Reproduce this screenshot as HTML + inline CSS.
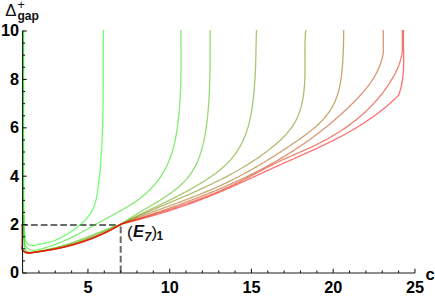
<!DOCTYPE html>
<html><head><meta charset="utf-8"><style>
html,body{margin:0;padding:0;background:#fff;}
svg{display:block;font-family:"Liberation Sans",sans-serif;}
</style></head><body>
<svg width="435" height="297" viewBox="0 0 435 297">
<rect width="435" height="297" fill="#fff"/>
<g stroke="#6a6a6a" stroke-width="2.0" stroke-dasharray="6.7,3.05" fill="none">
<line x1="21.3" y1="225.1" x2="120.7" y2="225.1"/>
<line x1="120.7" y1="224.6" x2="120.7" y2="273.0" stroke-dashoffset="-2"/>
</g>
<path d="M23.6,30.1 L23.6,150.0 L23.8,205.0 L23.7,205.0 L23.8,206.5 L23.9,208.0 L23.9,209.5 L23.9,211.0 L23.9,212.5 L24.0,214.0 L24.0,215.5 L24.0,217.0 L24.0,218.5 L24.0,220.0 L24.1,221.4 L24.1,222.9 L24.1,224.4 L24.2,225.9 L24.3,227.4 L24.3,228.9 L24.4,230.4 L24.5,231.9 L24.7,233.4 L24.8,234.9 L25.0,236.4 L25.2,237.9 L25.4,239.4 L25.8,240.9 L26.4,242.2 L27.3,243.4 L28.4,244.4 L29.7,245.1 L31.1,245.4 L32.6,245.5 L34.1,245.4 L35.6,245.2 L37.1,244.9 L38.6,244.6 L40.0,244.2 L41.5,243.9 L43.0,243.6 L44.4,243.3 L45.9,243.0 L47.4,242.6 L48.8,242.3 L50.3,241.9 L51.7,241.5 L53.1,241.0 L54.5,240.5 L55.9,240.0 L57.2,239.4 L58.6,238.8 L59.9,238.2 L61.3,237.5 L62.6,236.8 L63.9,236.1 L65.2,235.3 L66.5,234.6 L67.8,233.8 L69.1,233.0 L70.4,232.1 L71.7,231.3 L72.9,230.4 L74.2,229.6 L75.4,228.7 L76.6,227.7 L77.8,226.8 L79.0,225.8 L80.2,224.9 L81.3,223.9 L82.4,222.8 L83.5,221.8 L84.6,220.7 L85.6,219.6 L86.6,218.5 L87.5,217.4 L88.4,216.2 L89.3,215.1 L90.1,213.9 L90.9,212.6 L91.6,211.4 L92.3,210.1 L93.0,208.8 L93.5,207.5 L94.1,206.1 L94.6,204.7 L95.0,203.3 L95.5,201.9 L95.9,200.5 L96.2,199.1 L96.5,197.6 L96.8,196.2 L97.1,194.7 L97.4,193.2 L97.6,191.7 L97.8,190.2 L98.0,188.7 L98.2,187.2 L98.4,185.7 L98.6,184.2 L98.8,182.7 L99.0,181.2 L99.1,179.7 L99.3,178.2 L99.5,176.7 L99.6,175.2 L99.8,173.7 L99.9,172.2 L100.0,170.6 L100.2,169.1 L100.3,167.6 L100.4,166.1 L100.6,164.6 L100.7,163.1 L100.8,161.6 L100.9,160.1 L101.0,158.7 L101.1,157.2 L101.2,155.7 L101.3,154.2 L101.4,152.7 L101.5,151.2 L101.6,149.7 L101.7,148.2 L101.8,146.7 L101.9,145.2 L101.9,143.7 L102.0,142.2 L102.1,140.7 L102.1,139.2 L102.2,137.7 L102.3,136.2 L102.3,134.7 L102.4,133.2 L102.4,131.7 L102.5,130.2 L102.5,128.8 L102.6,127.3 L102.6,125.8 L102.7,124.3 L102.7,122.8 L102.7,121.3 L102.8,119.8 L102.8,118.3 L102.8,116.8 L102.9,115.3 L102.9,113.8 L102.9,112.3 L102.9,110.9 L103.0,109.4 L103.0,107.9 L103.0,106.4 L103.0,104.9 L103.0,103.4 L103.1,101.9 L103.1,100.4 L103.1,98.9 L103.1,97.4 L103.1,95.9 L103.1,94.5 L103.1,93.0 L103.1,91.5 L103.1,90.0 L103.1,88.5 L103.1,87.0 L103.2,85.5 L103.2,84.0 L103.2,82.5 L103.2,81.0 L103.2,79.5 L103.2,78.0 L103.2,76.6 L103.2,75.1 L103.2,73.6 L103.2,72.1 L103.2,70.6 L103.2,69.1 L103.2,67.6 L103.2,66.1 L103.2,64.6 L103.2,63.1 L103.2,61.6 L103.2,60.1 L103.2,58.6 L103.2,57.1 L103.2,55.6 L103.2,54.1 L103.2,52.6 L103.2,51.1 L103.3,49.6 L103.3,48.1 L103.3,46.6 L103.3,45.1 L103.3,43.6 L103.3,42.1 L103.3,40.6 L103.4,39.1 L103.4,37.6 L103.4,36.1 L103.4,34.6 L103.4,33.1 L103.5,31.6 L103.5,30.1" stroke="#00ff00" stroke-width="1.3" fill="none" stroke-opacity="0.56" stroke-linejoin="round"/>
<path d="M23.2,30.1 L23.1,150.0 L23.4,222.0 L23.4,222.0 L23.4,223.7 L23.4,225.4 L23.5,227.1 L23.5,228.8 L23.6,230.4 L23.7,232.0 L23.8,233.7 L23.9,235.3 L24.0,237.0 L24.2,238.6 L24.4,240.4 L24.6,242.1 L24.8,243.8 L25.3,245.4 L26.1,246.9 L27.1,248.1 L28.5,249.0 L30.0,249.7 L31.7,250.1 L33.3,250.3 L35.0,250.2 L36.7,249.9 L38.3,249.6 L40.0,249.2 L41.6,248.8 L43.2,248.4 L44.8,247.9 L46.4,247.5 L48.0,247.0 L49.6,246.5 L51.2,245.9 L52.8,245.4 L54.3,244.8 L55.9,244.2 L57.5,243.6 L59.0,243.0 L60.5,242.4 L62.1,241.7 L63.6,241.1 L65.1,240.4 L66.6,239.7 L68.1,239.0 L69.7,238.3 L71.2,237.6 L72.7,236.8 L74.1,236.1 L75.6,235.3 L77.1,234.6 L78.6,233.8 L80.1,233.0 L81.6,232.2 L83.0,231.4 L84.5,230.6 L86.0,229.8 L87.4,229.0 L88.9,228.2 L90.4,227.4 L91.8,226.6 L93.3,225.8 L94.8,224.9 L96.2,224.1 L97.7,223.3 L99.2,222.5 L100.6,221.7 L102.1,220.8 L103.5,220.0 L105.0,219.2 L106.5,218.4 L108.0,217.6 L109.4,216.8 L110.9,216.0 L112.4,215.2 L113.8,214.4 L115.3,213.6 L116.8,212.8 L118.3,212.0 L119.7,211.2 L121.2,210.4 L122.6,209.6 L124.1,208.7 L125.5,207.9 L127.0,207.0 L128.4,206.2 L129.8,205.3 L131.2,204.4 L132.6,203.5 L134.0,202.6 L135.4,201.6 L136.7,200.7 L138.1,199.7 L139.4,198.7 L140.8,197.7 L142.1,196.6 L143.4,195.6 L144.7,194.5 L145.9,193.4 L147.2,192.3 L148.4,191.1 L149.6,189.9 L150.8,188.8 L151.9,187.5 L153.1,186.3 L154.2,185.1 L155.3,183.8 L156.4,182.5 L157.4,181.2 L158.4,179.9 L159.4,178.6 L160.3,177.2 L161.3,175.8 L162.2,174.4 L163.0,173.0 L163.8,171.6 L164.7,170.1 L165.4,168.7 L166.2,167.2 L166.9,165.7 L167.6,164.2 L168.2,162.7 L168.9,161.1 L169.5,159.6 L170.1,158.0 L170.6,156.5 L171.2,154.9 L171.7,153.3 L172.2,151.7 L172.7,150.1 L173.1,148.5 L173.6,146.9 L174.0,145.2 L174.4,143.6 L174.8,141.9 L175.1,140.3 L175.5,138.6 L175.8,137.0 L176.1,135.3 L176.4,133.6 L176.7,132.0 L176.9,130.3 L177.2,128.6 L177.4,126.9 L177.7,125.3 L177.9,123.6 L178.1,121.9 L178.3,120.2 L178.5,118.5 L178.7,116.9 L178.8,115.2 L179.0,113.5 L179.2,111.9 L179.3,110.2 L179.4,108.5 L179.6,106.9 L179.7,105.2 L179.8,103.5 L179.9,101.9 L180.0,100.2 L180.1,98.5 L180.2,96.9 L180.3,95.2 L180.4,93.5 L180.4,91.9 L180.5,90.2 L180.6,88.6 L180.6,86.9 L180.7,85.2 L180.7,83.6 L180.8,81.9 L180.8,80.3 L180.8,78.6 L180.9,76.9 L180.9,75.3 L180.9,73.6 L180.9,71.9 L180.9,70.3 L181.0,68.6 L181.0,67.0 L181.0,65.3 L181.0,63.6 L181.0,62.0 L181.0,60.3 L181.0,58.6 L181.0,57.0 L181.0,55.3 L181.0,53.6 L181.0,52.0 L180.9,50.3 L180.9,48.6 L180.9,46.9 L180.9,45.3 L180.9,43.6 L180.9,41.9 L180.9,40.2 L180.9,38.5 L180.9,36.9 L180.9,35.2 L180.9,33.5 L180.9,31.8 L180.9,30.1" stroke="#20df00" stroke-width="1.3" fill="none" stroke-opacity="0.56" stroke-linejoin="round"/>
<path d="M23.8,215.0 L23.8,222.0 L23.7,222.0 L23.7,222.7 L23.7,223.3 L23.7,224.0 L23.6,224.7 L23.6,225.3 L23.6,226.0 L23.6,226.6 L23.6,227.3 L23.6,227.9 L23.6,228.6 L23.6,229.2 L23.6,229.8 L23.6,230.5 L23.6,231.1 L23.6,231.8 L23.7,232.4 L23.7,233.0 L23.7,233.7 L23.7,234.3 L23.7,235.0 L23.8,235.6 L23.8,236.2 L23.8,236.9 L23.9,237.5 L23.9,238.1 L23.9,238.8 L24.0,239.4 L24.0,240.1 L24.1,240.7 L24.1,241.4 L24.2,242.0 L24.2,242.7 L24.2,243.3 L24.3,244.0 L24.3,244.6 L24.4,245.3 L24.5,246.0 L24.6,246.6 L24.7,247.3 L24.8,247.9 L25.0,248.5 L25.3,249.1 L25.6,249.7 L26.0,250.3 L26.4,250.8 L26.9,251.3 L27.4,251.7 L27.9,252.0 L28.5,252.2 L29.1,252.3 L29.7,252.3 L30.4,252.3 L31.0,252.3 L31.7,252.2 L32.3,252.1 L33.0,252.0 L33.6,251.9 L34.3,251.8 L34.9,251.7 L35.6,251.6 L36.2,251.5 L36.9,251.4 L37.5,251.3 L38.1,251.2 L38.8,251.1 L39.4,251.0 L40.1,250.9 L40.7,250.8 L41.4,250.7 L42.0,250.6 L42.6,250.4 L43.3,250.3 L43.9,250.2 L44.5,250.1 L45.2,250.0 L45.8,249.8 L46.4,249.7 L47.1,249.6 L47.7,249.4 L48.3,249.3 L49.0,249.2 L49.6,249.0 L50.2,248.9 L50.9,248.7 L51.5,248.6 L52.1,248.4 L52.8,248.3 L53.4,248.1 L54.0,248.0 L54.6,247.8 L55.3,247.7 L55.9,247.5 L56.5,247.3 L57.1,247.2 L57.8,247.0 L58.4,246.8 L59.0,246.7 L59.6,246.5 L60.2,246.3 L60.9,246.2 L61.5,246.0 L62.1,245.8 L62.7,245.6 L63.3,245.4 L63.9,245.3 L64.6,245.1 L65.2,244.9 L65.8,244.7 L66.4,244.5 L67.0,244.3 L67.6,244.1 L68.3,243.9 L68.9,243.7 L69.5,243.5 L70.1,243.3 L70.7,243.1 L71.3,242.9 L71.9,242.7 L72.5,242.5 L73.2,242.3 L73.8,242.0 L74.4,241.8 L75.0,241.6 L75.6,241.4 L76.2,241.2 L76.8,241.0 L77.4,240.7 L78.0,240.5 L78.6,240.3 L79.2,240.1 L79.9,239.8 L80.5,239.6 L81.1,239.4 L81.7,239.1 L82.3,238.9 L82.9,238.7 L83.5,238.5 L84.1,238.2 L84.7,238.0 L85.3,237.7 L85.9,237.5 L86.5,237.3 L87.1,237.0 L87.7,236.8 L88.3,236.6 L88.9,236.3 L89.5,236.1 L90.1,235.8 L90.8,235.6 L91.4,235.4 L92.0,235.1 L92.6,234.9 L93.2,234.7 L93.8,234.4 L94.4,234.2 L95.0,233.9 L95.6,233.7 L96.2,233.4 L96.8,233.2 L97.4,233.0 L98.0,232.7 L98.6,232.5 L99.2,232.3 L99.8,232.0 L100.4,231.8 L101.0,231.5 L101.6,231.3 L102.2,231.1 L102.8,230.8 L103.4,230.6 L104.0,230.4 L104.6,230.1 L105.2,229.9 L105.8,229.7 L106.4,229.4 L107.0,229.2 L107.7,229.0 L108.3,228.7 L108.9,228.5 L109.5,228.3 L110.1,228.0 L110.7,227.8 L111.3,227.6 L111.9,227.4 L112.5,227.1 L113.1,226.9 L113.7,226.7 L114.3,226.5 L114.9,226.3 L115.5,226.1 L116.1,225.8 L116.7,225.6 L117.3,225.4 L118.0,225.2 L118.6,225.0 L119.2,224.8 L119.8,224.6 L120.4,224.4 L121.0,224.2 L121.0,224.2 L121.9,223.5 L122.9,222.9 L123.8,222.2 L124.8,221.6 L125.8,221.0 L126.7,220.3 L127.7,219.7 L128.7,219.1 L129.7,218.4 L130.7,217.8 L131.6,217.2 L132.6,216.6 L133.6,216.0 L134.6,215.4 L135.6,214.8 L136.6,214.1 L137.7,213.5 L138.7,212.9 L139.7,212.3 L140.7,211.7 L141.7,211.1 L142.7,210.5 L143.8,209.9 L144.8,209.3 L145.8,208.7 L146.8,208.1 L147.8,207.5 L148.9,206.9 L149.9,206.3 L150.9,205.7 L151.9,205.1 L153.0,204.5 L154.0,203.9 L155.0,203.3 L156.0,202.7 L157.1,202.1 L158.1,201.4 L159.1,200.8 L160.1,200.2 L161.1,199.6 L162.1,198.9 L163.1,198.3 L164.1,197.6 L165.1,197.0 L166.1,196.3 L167.1,195.6 L168.1,195.0 L169.1,194.3 L170.0,193.6 L171.0,192.9 L171.9,192.2 L172.9,191.5 L173.8,190.8 L174.7,190.1 L175.7,189.4 L176.6,188.6 L177.5,187.9 L178.4,187.1 L179.2,186.4 L180.1,185.6 L181.0,184.8 L181.8,184.0 L182.6,183.2 L183.4,182.4 L184.2,181.6 L185.0,180.8 L185.8,179.9 L186.6,179.1 L187.3,178.2 L188.0,177.3 L188.7,176.5 L189.4,175.6 L190.1,174.6 L190.8,173.7 L191.4,172.8 L192.0,171.8 L192.6,170.9 L193.2,169.9 L193.8,168.9 L194.4,167.9 L194.9,166.9 L195.4,165.9 L196.0,164.9 L196.5,163.8 L196.9,162.8 L197.4,161.8 L197.9,160.7 L198.3,159.6 L198.7,158.5 L199.1,157.5 L199.6,156.4 L199.9,155.3 L200.3,154.1 L200.7,153.0 L201.0,151.9 L201.4,150.8 L201.7,149.6 L202.0,148.5 L202.3,147.4 L202.6,146.2 L202.9,145.1 L203.2,143.9 L203.5,142.7 L203.7,141.6 L204.0,140.4 L204.2,139.2 L204.5,138.0 L204.7,136.9 L204.9,135.7 L205.1,134.5 L205.3,133.3 L205.5,132.1 L205.7,130.9 L205.9,129.7 L206.1,128.5 L206.2,127.3 L206.4,126.1 L206.6,125.0 L206.7,123.8 L206.9,122.6 L207.0,121.4 L207.1,120.2 L207.3,119.0 L207.4,117.8 L207.5,116.6 L207.7,115.5 L207.8,114.3 L207.9,113.1 L208.0,111.9 L208.1,110.7 L208.2,109.6 L208.3,108.4 L208.4,107.2 L208.5,106.0 L208.6,104.9 L208.7,103.7 L208.8,102.5 L208.8,101.4 L208.9,100.2 L209.0,99.0 L209.1,97.9 L209.1,96.7 L209.2,95.5 L209.2,94.4 L209.3,93.2 L209.4,92.0 L209.4,90.9 L209.5,89.7 L209.5,88.5 L209.6,87.4 L209.6,86.2 L209.6,85.1 L209.7,83.9 L209.7,82.7 L209.8,81.6 L209.8,80.4 L209.8,79.3 L209.9,78.1 L209.9,76.9 L209.9,75.8 L209.9,74.6 L209.9,73.5 L210.0,72.3 L210.0,71.1 L210.0,70.0 L210.0,68.8 L210.0,67.7 L210.1,66.5 L210.1,65.3 L210.1,64.2 L210.1,63.0 L210.1,61.9 L210.1,60.7 L210.1,59.5 L210.1,58.4 L210.1,57.2 L210.1,56.0 L210.1,54.9 L210.1,53.7 L210.1,52.5 L210.1,51.4 L210.1,50.2 L210.1,49.0 L210.1,47.8 L210.2,46.7 L210.2,45.5 L210.2,44.3 L210.2,43.1 L210.2,42.0 L210.2,40.8 L210.2,39.6 L210.2,38.4 L210.2,37.2 L210.2,36.1 L210.2,34.9 L210.2,33.7 L210.2,32.5 L210.2,31.3 L210.2,30.1" stroke="#40bf00" stroke-width="1.3" fill="none" stroke-opacity="0.56" stroke-linejoin="round"/>
<path d="M22.2,246.0 L22.2,248.0 L22.2,248.0 L22.1,249.1 L22.1,249.8 L22.3,250.3 L22.6,250.7 L23.0,250.8 L23.5,250.9 L23.9,251.0 L24.5,251.0 L25.0,251.1 L25.5,251.2 L26.0,251.4 L26.5,251.6 L27.0,251.9 L27.5,252.1 L28.0,252.3 L28.5,252.5 L29.0,252.6 L29.5,252.6 L30.0,252.6 L30.5,252.6 L31.0,252.5 L31.6,252.5 L32.1,252.4 L32.6,252.3 L33.2,252.2 L33.7,252.2 L34.2,252.1 L34.8,252.0 L35.3,251.9 L35.8,251.8 L36.3,251.7 L36.9,251.7 L37.4,251.6 L37.9,251.5 L38.5,251.4 L39.0,251.3 L39.5,251.2 L40.0,251.2 L40.6,251.1 L41.1,251.0 L41.6,250.9 L42.1,250.8 L42.7,250.7 L43.2,250.6 L43.7,250.5 L44.2,250.4 L44.8,250.3 L45.3,250.2 L45.8,250.1 L46.3,250.0 L46.9,249.9 L47.4,249.8 L47.9,249.7 L48.4,249.6 L48.9,249.5 L49.5,249.4 L50.0,249.3 L50.5,249.2 L51.0,249.1 L51.5,249.0 L52.1,248.9 L52.6,248.8 L53.1,248.7 L53.6,248.5 L54.1,248.4 L54.7,248.3 L55.2,248.2 L55.7,248.1 L56.2,248.0 L56.7,247.8 L57.2,247.7 L57.8,247.6 L58.3,247.5 L58.8,247.3 L59.3,247.2 L59.8,247.1 L60.3,247.0 L60.8,246.8 L61.4,246.7 L61.9,246.6 L62.4,246.4 L62.9,246.3 L63.4,246.2 L63.9,246.0 L64.4,245.9 L64.9,245.8 L65.5,245.6 L66.0,245.5 L66.5,245.3 L67.0,245.2 L67.5,245.0 L68.0,244.9 L68.5,244.7 L69.0,244.6 L69.5,244.4 L70.0,244.3 L70.5,244.1 L71.1,244.0 L71.6,243.8 L72.1,243.6 L72.6,243.5 L73.1,243.3 L73.6,243.2 L74.1,243.0 L74.6,242.8 L75.1,242.7 L75.6,242.5 L76.1,242.3 L76.6,242.2 L77.1,242.0 L77.6,241.8 L78.1,241.6 L78.6,241.5 L79.1,241.3 L79.6,241.1 L80.1,240.9 L80.6,240.8 L81.1,240.6 L81.6,240.4 L82.1,240.2 L82.6,240.0 L83.1,239.8 L83.6,239.7 L84.1,239.5 L84.6,239.3 L85.1,239.1 L85.6,238.9 L86.1,238.7 L86.6,238.5 L87.1,238.3 L87.6,238.1 L88.1,238.0 L88.6,237.8 L89.1,237.6 L89.6,237.4 L90.1,237.2 L90.6,237.0 L91.1,236.8 L91.6,236.6 L92.1,236.4 L92.6,236.2 L93.1,236.0 L93.6,235.8 L94.1,235.6 L94.6,235.4 L95.1,235.2 L95.6,235.0 L96.1,234.8 L96.6,234.6 L97.0,234.4 L97.5,234.2 L98.0,234.0 L98.5,233.8 L99.0,233.6 L99.5,233.3 L100.0,233.1 L100.5,232.9 L101.0,232.7 L101.5,232.5 L102.0,232.3 L102.5,232.1 L102.9,231.9 L103.4,231.7 L103.9,231.5 L104.4,231.3 L104.9,231.1 L105.4,230.9 L105.9,230.6 L106.4,230.4 L106.9,230.2 L107.4,230.0 L107.8,229.8 L108.3,229.6 L108.8,229.4 L109.3,229.2 L109.8,229.0 L110.3,228.8 L110.8,228.6 L111.3,228.3 L111.8,228.1 L112.2,227.9 L112.7,227.7 L113.2,227.5 L113.7,227.3 L114.2,227.1 L114.7,226.9 L115.2,226.7 L115.7,226.5 L116.1,226.3 L116.6,226.1 L117.1,225.8 L117.6,225.6 L118.1,225.4 L118.6,225.2 L119.1,225.0 L119.5,224.8 L120.0,224.6 L120.5,224.4 L121.0,224.2 L121.0,224.2 L122.2,223.6 L123.3,223.0 L124.5,222.4 L125.6,221.7 L126.8,221.1 L128.0,220.5 L129.2,219.9 L130.3,219.3 L131.5,218.7 L132.7,218.2 L133.9,217.6 L135.0,217.0 L136.2,216.4 L137.4,215.8 L138.6,215.2 L139.8,214.6 L140.9,214.1 L142.1,213.5 L143.3,212.9 L144.5,212.3 L145.7,211.8 L146.9,211.2 L148.1,210.6 L149.2,210.0 L150.4,209.5 L151.6,208.9 L152.8,208.3 L154.0,207.7 L155.2,207.2 L156.4,206.6 L157.6,206.0 L158.8,205.4 L160.0,204.9 L161.2,204.3 L162.3,203.7 L163.5,203.1 L164.7,202.5 L165.9,202.0 L167.1,201.4 L168.3,200.8 L169.5,200.2 L170.7,199.6 L171.9,199.0 L173.0,198.4 L174.2,197.8 L175.4,197.2 L176.6,196.6 L177.8,196.0 L179.0,195.4 L180.1,194.8 L181.3,194.2 L182.5,193.6 L183.7,192.9 L184.8,192.3 L186.0,191.7 L187.2,191.0 L188.3,190.4 L189.5,189.8 L190.7,189.1 L191.8,188.5 L193.0,187.8 L194.2,187.2 L195.3,186.5 L196.5,185.8 L197.6,185.1 L198.8,184.5 L199.9,183.8 L201.1,183.1 L202.2,182.4 L203.3,181.7 L204.5,181.0 L205.6,180.3 L206.7,179.5 L207.8,178.8 L208.9,178.1 L210.1,177.3 L211.2,176.6 L212.2,175.8 L213.3,175.0 L214.4,174.2 L215.5,173.5 L216.5,172.7 L217.6,171.8 L218.6,171.0 L219.6,170.2 L220.7,169.4 L221.7,168.5 L222.7,167.7 L223.6,166.8 L224.6,165.9 L225.6,165.0 L226.5,164.1 L227.4,163.2 L228.3,162.3 L229.2,161.3 L230.1,160.4 L231.0,159.4 L231.8,158.4 L232.6,157.4 L233.4,156.4 L234.2,155.4 L235.0,154.3 L235.7,153.3 L236.5,152.2 L237.2,151.2 L237.9,150.1 L238.6,149.0 L239.2,147.9 L239.9,146.8 L240.5,145.6 L241.1,144.5 L241.7,143.3 L242.3,142.2 L242.9,141.0 L243.4,139.8 L243.9,138.6 L244.4,137.4 L244.9,136.2 L245.4,135.0 L245.8,133.8 L246.3,132.5 L246.7,131.3 L247.1,130.0 L247.5,128.8 L247.9,127.5 L248.3,126.2 L248.6,125.0 L248.9,123.7 L249.3,122.4 L249.6,121.1 L249.9,119.8 L250.2,118.5 L250.4,117.2 L250.7,115.9 L251.0,114.6 L251.2,113.3 L251.4,111.9 L251.7,110.6 L251.9,109.3 L252.1,108.0 L252.3,106.6 L252.5,105.3 L252.7,104.0 L252.8,102.6 L253.0,101.3 L253.2,100.0 L253.3,98.7 L253.5,97.3 L253.6,96.0 L253.8,94.7 L253.9,93.3 L254.0,92.0 L254.1,90.7 L254.2,89.4 L254.3,88.0 L254.4,86.7 L254.5,85.4 L254.6,84.1 L254.7,82.8 L254.8,81.4 L254.9,80.1 L255.0,78.8 L255.0,77.5 L255.1,76.2 L255.2,74.8 L255.2,73.5 L255.3,72.2 L255.4,70.9 L255.4,69.6 L255.5,68.2 L255.5,66.9 L255.6,65.6 L255.6,64.3 L255.6,63.0 L255.7,61.7 L255.7,60.3 L255.7,59.0 L255.8,57.7 L255.8,56.4 L255.9,55.1 L255.9,53.8 L255.9,52.4 L255.9,51.1 L256.0,49.8 L256.0,48.5 L256.0,47.2 L256.1,45.9 L256.1,44.6 L256.1,43.2 L256.2,41.9 L256.2,40.6 L256.2,39.3 L256.3,38.0 L256.3,36.7 L256.3,35.4 L256.4,34.0 L256.4,32.7 L256.5,31.4 L256.5,30.1" stroke="#609f00" stroke-width="1.3" fill="none" stroke-opacity="0.56" stroke-linejoin="round"/>
<path d="M22.2,246.0 L22.2,248.0 L22.2,248.0 L22.2,248.7 L22.3,249.3 L22.4,249.9 L22.7,250.3 L23.0,250.7 L23.4,251.0 L23.8,251.2 L24.3,251.4 L24.8,251.6 L25.3,251.8 L25.8,252.0 L26.3,252.2 L26.9,252.4 L27.4,252.5 L27.9,252.7 L28.4,252.7 L28.9,252.8 L29.5,252.8 L30.0,252.8 L30.5,252.7 L31.0,252.7 L31.6,252.6 L32.1,252.5 L32.6,252.5 L33.2,252.4 L33.7,252.3 L34.2,252.2 L34.7,252.2 L35.3,252.1 L35.8,252.0 L36.3,251.9 L36.9,251.8 L37.4,251.8 L37.9,251.7 L38.4,251.6 L39.0,251.5 L39.5,251.4 L40.0,251.4 L40.5,251.3 L41.1,251.2 L41.6,251.1 L42.1,251.0 L42.7,250.9 L43.2,250.8 L43.7,250.8 L44.2,250.7 L44.8,250.6 L45.3,250.5 L45.8,250.4 L46.3,250.3 L46.9,250.2 L47.4,250.1 L47.9,250.0 L48.4,249.9 L49.0,249.8 L49.5,249.7 L50.0,249.6 L50.5,249.5 L51.1,249.4 L51.6,249.3 L52.1,249.2 L52.6,249.1 L53.1,249.0 L53.7,248.9 L54.2,248.8 L54.7,248.7 L55.2,248.6 L55.8,248.5 L56.3,248.4 L56.8,248.3 L57.3,248.1 L57.8,248.0 L58.4,247.9 L58.9,247.8 L59.4,247.7 L59.9,247.6 L60.4,247.4 L61.0,247.3 L61.5,247.2 L62.0,247.1 L62.5,247.0 L63.0,246.8 L63.5,246.7 L64.1,246.6 L64.6,246.4 L65.1,246.3 L65.6,246.2 L66.1,246.0 L66.6,245.9 L67.2,245.8 L67.7,245.6 L68.2,245.5 L68.7,245.4 L69.2,245.2 L69.7,245.1 L70.2,244.9 L70.7,244.8 L71.3,244.6 L71.8,244.5 L72.3,244.3 L72.8,244.2 L73.3,244.0 L73.8,243.9 L74.3,243.7 L74.8,243.6 L75.3,243.4 L75.8,243.2 L76.4,243.1 L76.9,242.9 L77.4,242.8 L77.9,242.6 L78.4,242.4 L78.9,242.3 L79.4,242.1 L79.9,241.9 L80.4,241.7 L80.9,241.6 L81.4,241.4 L81.9,241.2 L82.4,241.0 L82.9,240.9 L83.4,240.7 L83.9,240.5 L84.4,240.3 L84.9,240.2 L85.4,240.0 L85.9,239.8 L86.4,239.6 L86.9,239.4 L87.4,239.2 L87.9,239.0 L88.4,238.9 L88.9,238.7 L89.4,238.5 L89.9,238.3 L90.4,238.1 L90.9,237.9 L91.4,237.7 L91.9,237.5 L92.4,237.3 L92.9,237.1 L93.4,236.9 L93.9,236.7 L94.4,236.5 L94.9,236.3 L95.4,236.1 L95.9,235.9 L96.4,235.7 L96.9,235.5 L97.4,235.3 L97.9,235.1 L98.3,234.9 L98.8,234.6 L99.3,234.4 L99.8,234.2 L100.3,234.0 L100.8,233.8 L101.3,233.6 L101.8,233.4 L102.3,233.2 L102.8,232.9 L103.2,232.7 L103.7,232.5 L104.2,232.3 L104.7,232.1 L105.2,231.8 L105.7,231.6 L106.2,231.4 L106.6,231.2 L107.1,231.0 L107.6,230.7 L108.1,230.5 L108.6,230.3 L109.1,230.1 L109.5,229.8 L110.0,229.6 L110.5,229.4 L111.0,229.1 L111.5,228.9 L112.0,228.7 L112.4,228.5 L112.9,228.2 L113.4,228.0 L113.9,227.8 L114.3,227.5 L114.8,227.3 L115.3,227.1 L115.8,226.8 L116.3,226.6 L116.7,226.4 L117.2,226.1 L117.7,225.9 L118.2,225.6 L118.6,225.4 L119.1,225.2 L119.6,224.9 L120.1,224.7 L120.5,224.4 L121.0,224.2 L121.0,224.2 L122.3,223.6 L123.7,222.9 L125.0,222.3 L126.3,221.6 L127.7,221.0 L129.0,220.4 L130.4,219.8 L131.7,219.1 L133.1,218.5 L134.4,217.9 L135.8,217.3 L137.2,216.7 L138.5,216.1 L139.9,215.5 L141.2,214.9 L142.6,214.2 L144.0,213.6 L145.3,213.0 L146.7,212.4 L148.1,211.9 L149.5,211.3 L150.8,210.7 L152.2,210.1 L153.6,209.5 L155.0,208.9 L156.4,208.3 L157.7,207.7 L159.1,207.1 L160.5,206.5 L161.9,205.9 L163.3,205.4 L164.6,204.8 L166.0,204.2 L167.4,203.6 L168.8,203.0 L170.2,202.4 L171.6,201.8 L172.9,201.2 L174.3,200.6 L175.7,200.1 L177.1,199.5 L178.5,198.9 L179.9,198.3 L181.3,197.7 L182.6,197.1 L184.0,196.5 L185.4,195.9 L186.8,195.3 L188.2,194.7 L189.5,194.1 L190.9,193.5 L192.3,192.9 L193.7,192.3 L195.0,191.7 L196.4,191.1 L197.8,190.4 L199.2,189.8 L200.5,189.2 L201.9,188.6 L203.3,187.9 L204.6,187.3 L206.0,186.7 L207.4,186.0 L208.7,185.4 L210.1,184.8 L211.4,184.1 L212.8,183.5 L214.1,182.8 L215.5,182.2 L216.8,181.5 L218.2,180.8 L219.5,180.2 L220.9,179.5 L222.2,178.8 L223.5,178.1 L224.9,177.4 L226.2,176.8 L227.5,176.1 L228.8,175.4 L230.2,174.6 L231.5,173.9 L232.8,173.2 L234.1,172.5 L235.4,171.8 L236.7,171.0 L238.0,170.3 L239.3,169.5 L240.6,168.8 L241.9,168.0 L243.2,167.3 L244.4,166.5 L245.7,165.7 L247.0,164.9 L248.2,164.2 L249.5,163.4 L250.8,162.6 L252.0,161.7 L253.3,160.9 L254.5,160.1 L255.8,159.3 L257.0,158.4 L258.2,157.6 L259.5,156.7 L260.7,155.9 L261.9,155.0 L263.1,154.1 L264.3,153.2 L265.5,152.4 L266.7,151.5 L267.9,150.5 L269.1,149.6 L270.3,148.7 L271.4,147.8 L272.6,146.8 L273.8,145.9 L274.9,144.9 L276.1,143.9 L277.2,142.9 L278.3,142.0 L279.4,140.9 L280.5,139.9 L281.6,138.9 L282.7,137.9 L283.7,136.8 L284.8,135.7 L285.8,134.6 L286.8,133.5 L287.7,132.4 L288.7,131.3 L289.6,130.1 L290.5,129.0 L291.4,127.8 L292.2,126.6 L293.0,125.4 L293.8,124.1 L294.6,122.9 L295.3,121.6 L296.0,120.3 L296.6,119.0 L297.2,117.7 L297.8,116.3 L298.4,115.0 L298.9,113.6 L299.4,112.2 L299.9,110.8 L300.4,109.4 L300.8,107.9 L301.2,106.5 L301.5,105.1 L301.9,103.6 L302.2,102.1 L302.5,100.7 L302.8,99.2 L303.1,97.7 L303.3,96.2 L303.5,94.7 L303.7,93.2 L303.9,91.7 L304.1,90.2 L304.2,88.7 L304.3,87.2 L304.5,85.7 L304.6,84.2 L304.7,82.6 L304.7,81.1 L304.8,79.6 L304.9,78.1 L304.9,76.6 L304.9,75.0 L305.0,73.5 L305.0,72.0 L305.0,70.5 L305.0,68.9 L305.0,67.4 L305.0,65.9 L305.0,64.4 L305.0,62.8 L305.0,61.3 L305.0,59.8 L305.0,58.3 L305.0,56.8 L305.0,55.3 L305.0,53.7 L304.9,52.2 L304.9,50.7 L305.0,49.2 L305.0,47.7 L305.0,46.2 L305.0,44.7 L305.0,43.3 L305.1,41.8 L305.1,40.3 L305.2,38.8 L305.3,37.4 L305.3,35.9 L305.4,34.4 L305.5,33.0 L305.7,31.5 L305.8,30.1" stroke="#808000" stroke-width="1.3" fill="none" stroke-opacity="0.56" stroke-linejoin="round"/>
<path d="M22.2,246.0 L22.2,248.0 L22.2,248.0 L22.2,248.6 L22.3,249.2 L22.5,249.7 L22.7,250.2 L23.0,250.6 L23.4,251.0 L23.7,251.3 L24.2,251.6 L24.6,251.9 L25.1,252.1 L25.6,252.3 L26.2,252.5 L26.7,252.7 L27.2,252.8 L27.8,252.8 L28.3,252.9 L28.8,252.9 L29.4,252.9 L29.9,252.9 L30.4,252.8 L30.9,252.8 L31.5,252.7 L32.0,252.6 L32.5,252.6 L33.1,252.5 L33.6,252.4 L34.1,252.3 L34.6,252.3 L35.2,252.2 L35.7,252.1 L36.2,252.0 L36.8,252.0 L37.3,251.9 L37.8,251.8 L38.3,251.7 L38.9,251.6 L39.4,251.6 L39.9,251.5 L40.5,251.4 L41.0,251.3 L41.5,251.2 L42.0,251.2 L42.6,251.1 L43.1,251.0 L43.6,250.9 L44.2,250.8 L44.7,250.7 L45.2,250.7 L45.7,250.6 L46.3,250.5 L46.8,250.4 L47.3,250.3 L47.9,250.2 L48.4,250.1 L48.9,250.0 L49.4,249.9 L50.0,249.8 L50.5,249.7 L51.0,249.6 L51.5,249.5 L52.1,249.5 L52.6,249.4 L53.1,249.3 L53.6,249.2 L54.2,249.1 L54.7,248.9 L55.2,248.8 L55.7,248.7 L56.3,248.6 L56.8,248.5 L57.3,248.4 L57.8,248.3 L58.4,248.2 L58.9,248.1 L59.4,248.0 L59.9,247.9 L60.4,247.7 L61.0,247.6 L61.5,247.5 L62.0,247.4 L62.5,247.3 L63.0,247.2 L63.6,247.0 L64.1,246.9 L64.6,246.8 L65.1,246.7 L65.6,246.5 L66.2,246.4 L66.7,246.3 L67.2,246.1 L67.7,246.0 L68.2,245.9 L68.8,245.7 L69.3,245.6 L69.8,245.5 L70.3,245.3 L70.8,245.2 L71.3,245.0 L71.8,244.9 L72.4,244.8 L72.9,244.6 L73.4,244.5 L73.9,244.3 L74.4,244.2 L74.9,244.0 L75.4,243.9 L76.0,243.7 L76.5,243.5 L77.0,243.4 L77.5,243.2 L78.0,243.1 L78.5,242.9 L79.0,242.7 L79.5,242.6 L80.0,242.4 L80.5,242.2 L81.0,242.1 L81.6,241.9 L82.1,241.7 L82.6,241.6 L83.1,241.4 L83.6,241.2 L84.1,241.0 L84.6,240.9 L85.1,240.7 L85.6,240.5 L86.1,240.3 L86.6,240.1 L87.1,240.0 L87.6,239.8 L88.1,239.6 L88.6,239.4 L89.1,239.2 L89.6,239.0 L90.1,238.8 L90.6,238.6 L91.1,238.4 L91.6,238.2 L92.1,238.1 L92.6,237.9 L93.1,237.7 L93.6,237.5 L94.1,237.3 L94.6,237.1 L95.1,236.8 L95.6,236.6 L96.1,236.4 L96.6,236.2 L97.1,236.0 L97.6,235.8 L98.0,235.6 L98.5,235.4 L99.0,235.2 L99.5,235.0 L100.0,234.8 L100.5,234.5 L101.0,234.3 L101.5,234.1 L102.0,233.9 L102.4,233.7 L102.9,233.4 L103.4,233.2 L103.9,233.0 L104.4,232.8 L104.9,232.5 L105.4,232.3 L105.8,232.1 L106.3,231.9 L106.8,231.6 L107.3,231.4 L107.8,231.2 L108.3,230.9 L108.7,230.7 L109.2,230.5 L109.7,230.2 L110.2,230.0 L110.6,229.7 L111.1,229.5 L111.6,229.3 L112.1,229.0 L112.6,228.8 L113.0,228.5 L113.5,228.3 L114.0,228.0 L114.4,227.8 L114.9,227.5 L115.4,227.3 L115.9,227.0 L116.3,226.8 L116.8,226.5 L117.3,226.3 L117.7,226.0 L118.2,225.8 L118.7,225.5 L119.1,225.2 L119.6,225.0 L120.1,224.7 L120.5,224.5 L121.0,224.2 L121.0,224.2 L122.5,223.6 L124.0,223.0 L125.5,222.4 L127.0,221.7 L128.5,221.1 L130.0,220.5 L131.5,219.9 L133.0,219.4 L134.5,218.8 L136.0,218.2 L137.5,217.6 L139.1,217.0 L140.6,216.4 L142.1,215.9 L143.6,215.3 L145.1,214.7 L146.7,214.2 L148.2,213.6 L149.7,213.0 L151.2,212.5 L152.8,211.9 L154.3,211.3 L155.8,210.8 L157.4,210.2 L158.9,209.7 L160.4,209.1 L162.0,208.6 L163.5,208.0 L165.0,207.4 L166.6,206.9 L168.1,206.3 L169.6,205.8 L171.2,205.2 L172.7,204.7 L174.2,204.1 L175.8,203.5 L177.3,203.0 L178.8,202.4 L180.3,201.8 L181.9,201.3 L183.4,200.7 L184.9,200.1 L186.4,199.6 L188.0,199.0 L189.5,198.4 L191.0,197.8 L192.5,197.2 L194.0,196.6 L195.6,196.1 L197.1,195.5 L198.6,194.9 L200.1,194.3 L201.6,193.7 L203.1,193.0 L204.6,192.4 L206.1,191.8 L207.6,191.2 L209.1,190.6 L210.6,189.9 L212.1,189.3 L213.6,188.6 L215.1,188.0 L216.5,187.3 L218.0,186.7 L219.5,186.0 L221.0,185.3 L222.4,184.6 L223.9,183.9 L225.3,183.3 L226.8,182.6 L228.3,181.9 L229.7,181.1 L231.2,180.4 L232.6,179.7 L234.0,179.0 L235.5,178.2 L236.9,177.5 L238.4,176.8 L239.8,176.0 L241.2,175.2 L242.6,174.5 L244.1,173.7 L245.5,172.9 L246.9,172.2 L248.3,171.4 L249.7,170.6 L251.1,169.8 L252.5,169.0 L253.9,168.2 L255.3,167.4 L256.7,166.6 L258.1,165.8 L259.5,165.0 L260.9,164.1 L262.3,163.3 L263.7,162.5 L265.1,161.6 L266.5,160.8 L267.9,159.9 L269.3,159.1 L270.6,158.2 L272.0,157.4 L273.4,156.5 L274.8,155.6 L276.2,154.7 L277.5,153.9 L278.9,153.0 L280.3,152.1 L281.6,151.2 L283.0,150.3 L284.4,149.4 L285.7,148.5 L287.1,147.6 L288.5,146.7 L289.8,145.8 L291.2,144.9 L292.5,143.9 L293.9,143.0 L295.3,142.1 L296.6,141.2 L298.0,140.2 L299.3,139.3 L300.7,138.4 L302.0,137.4 L303.4,136.4 L304.7,135.5 L306.0,134.5 L307.3,133.5 L308.6,132.5 L309.9,131.5 L311.2,130.5 L312.5,129.5 L313.7,128.5 L314.9,127.4 L316.2,126.3 L317.4,125.3 L318.5,124.2 L319.7,123.0 L320.8,121.9 L321.9,120.8 L323.0,119.6 L324.1,118.4 L325.1,117.2 L326.1,116.0 L327.1,114.7 L328.1,113.4 L329.0,112.1 L329.9,110.8 L330.8,109.5 L331.6,108.1 L332.4,106.7 L333.1,105.3 L333.9,103.8 L334.5,102.4 L335.2,100.9 L335.8,99.4 L336.4,97.8 L337.0,96.3 L337.5,94.8 L338.0,93.2 L338.4,91.6 L338.8,90.0 L339.2,88.4 L339.6,86.8 L340.0,85.2 L340.3,83.6 L340.6,82.0 L340.8,80.4 L341.1,78.8 L341.3,77.1 L341.5,75.5 L341.7,73.9 L341.9,72.3 L342.0,70.6 L342.2,69.0 L342.3,67.4 L342.4,65.8 L342.6,64.1 L342.7,62.5 L342.8,60.9 L342.9,59.3 L343.0,57.6 L343.0,56.0 L343.1,54.4 L343.2,52.8 L343.3,51.2 L343.3,49.6 L343.4,48.0 L343.4,46.3 L343.5,44.7 L343.5,43.1 L343.5,41.5 L343.6,39.9 L343.6,38.2 L343.6,36.6 L343.6,35.0 L343.7,33.4 L343.7,31.7 L343.7,30.1" stroke="#9f6000" stroke-width="1.3" fill="none" stroke-opacity="0.56" stroke-linejoin="round"/>
<path d="M22.2,246.0 L22.2,248.0 L22.2,248.0 L22.2,248.6 L22.4,249.2 L22.5,249.8 L22.8,250.2 L23.1,250.7 L23.4,251.1 L23.7,251.4 L24.2,251.7 L24.6,252.0 L25.0,252.2 L25.5,252.4 L26.0,252.6 L26.5,252.7 L27.0,252.8 L27.6,252.9 L28.1,252.9 L28.7,253.0 L29.2,253.0 L29.8,253.0 L30.3,252.9 L30.9,252.9 L31.4,252.9 L32.0,252.8 L32.5,252.7 L33.1,252.7 L33.6,252.6 L34.1,252.5 L34.7,252.4 L35.2,252.3 L35.7,252.2 L36.2,252.1 L36.7,252.1 L37.3,252.0 L37.8,251.9 L38.3,251.8 L38.8,251.7 L39.3,251.6 L39.9,251.5 L40.4,251.4 L40.9,251.3 L41.4,251.2 L41.9,251.1 L42.5,251.1 L43.0,251.0 L43.5,250.9 L44.1,250.8 L44.6,250.7 L45.1,250.7 L45.7,250.6 L46.2,250.5 L46.7,250.4 L47.3,250.4 L47.8,250.3 L48.3,250.2 L48.8,250.1 L49.4,250.0 L49.9,249.9 L50.4,249.9 L51.0,249.8 L51.5,249.7 L52.0,249.6 L52.6,249.5 L53.1,249.4 L53.6,249.3 L54.1,249.2 L54.7,249.1 L55.2,249.0 L55.7,248.9 L56.2,248.8 L56.8,248.7 L57.3,248.6 L57.8,248.5 L58.3,248.4 L58.9,248.2 L59.4,248.1 L59.9,248.0 L60.4,247.9 L60.9,247.8 L61.5,247.6 L62.0,247.5 L62.5,247.4 L63.0,247.3 L63.5,247.1 L64.1,247.0 L64.6,246.9 L65.1,246.7 L65.6,246.6 L66.1,246.5 L66.6,246.3 L67.2,246.2 L67.7,246.1 L68.2,245.9 L68.7,245.8 L69.2,245.7 L69.7,245.5 L70.3,245.4 L70.8,245.2 L71.3,245.1 L71.8,244.9 L72.3,244.8 L72.8,244.7 L73.4,244.5 L73.9,244.4 L74.4,244.2 L74.9,244.1 L75.4,243.9 L75.9,243.7 L76.4,243.6 L76.9,243.4 L77.5,243.3 L78.0,243.1 L78.5,243.0 L79.0,242.8 L79.5,242.6 L80.0,242.5 L80.5,242.3 L81.0,242.2 L81.5,242.0 L82.1,241.8 L82.6,241.7 L83.1,241.5 L83.6,241.3 L84.1,241.1 L84.6,241.0 L85.1,240.8 L85.6,240.6 L86.1,240.4 L86.6,240.3 L87.1,240.1 L87.6,239.9 L88.1,239.7 L88.6,239.5 L89.1,239.4 L89.7,239.2 L90.2,239.0 L90.7,238.8 L91.2,238.6 L91.7,238.4 L92.2,238.2 L92.7,238.0 L93.2,237.8 L93.7,237.6 L94.2,237.5 L94.7,237.3 L95.2,237.1 L95.6,236.9 L96.1,236.7 L96.6,236.4 L97.1,236.2 L97.6,236.0 L98.1,235.8 L98.6,235.6 L99.1,235.4 L99.6,235.2 L100.1,235.0 L100.6,234.8 L101.1,234.6 L101.6,234.3 L102.1,234.1 L102.5,233.9 L103.0,233.7 L103.5,233.5 L104.0,233.2 L104.5,233.0 L105.0,232.8 L105.5,232.6 L105.9,232.3 L106.4,232.1 L106.9,231.9 L107.4,231.6 L107.9,231.4 L108.4,231.2 L108.8,230.9 L109.3,230.7 L109.8,230.4 L110.3,230.2 L110.7,230.0 L111.2,229.7 L111.7,229.5 L112.2,229.2 L112.6,229.0 L113.1,228.7 L113.6,228.5 L114.0,228.2 L114.5,228.0 L115.0,227.7 L115.5,227.4 L115.9,227.2 L116.4,226.9 L116.9,226.6 L117.3,226.4 L117.8,226.1 L118.2,225.8 L118.7,225.6 L119.2,225.3 L119.6,225.0 L120.1,224.8 L120.5,224.5 L121.0,224.2 L121.0,224.2 L122.5,223.7 L124.1,223.2 L125.6,222.7 L127.2,222.2 L128.7,221.7 L130.3,221.2 L131.8,220.7 L133.4,220.2 L134.9,219.7 L136.5,219.2 L138.0,218.7 L139.6,218.2 L141.1,217.7 L142.7,217.2 L144.2,216.7 L145.8,216.2 L147.3,215.6 L148.9,215.1 L150.4,214.6 L151.9,214.1 L153.5,213.6 L155.0,213.1 L156.6,212.5 L158.1,212.0 L159.7,211.5 L161.2,211.0 L162.8,210.4 L164.3,209.9 L165.8,209.4 L167.4,208.8 L168.9,208.3 L170.5,207.7 L172.0,207.2 L173.5,206.7 L175.1,206.1 L176.6,205.6 L178.2,205.0 L179.7,204.5 L181.2,203.9 L182.8,203.3 L184.3,202.8 L185.8,202.2 L187.3,201.7 L188.9,201.1 L190.4,200.5 L191.9,199.9 L193.5,199.4 L195.0,198.8 L196.5,198.2 L198.0,197.6 L199.5,197.0 L201.1,196.4 L202.6,195.8 L204.1,195.2 L205.6,194.6 L207.1,194.0 L208.6,193.4 L210.2,192.8 L211.7,192.2 L213.2,191.6 L214.7,191.0 L216.2,190.3 L217.7,189.7 L219.2,189.1 L220.7,188.4 L222.2,187.8 L223.7,187.2 L225.2,186.5 L226.7,185.9 L228.2,185.2 L229.6,184.6 L231.1,183.9 L232.6,183.2 L234.1,182.6 L235.6,181.9 L237.1,181.2 L238.5,180.5 L240.0,179.8 L241.5,179.1 L242.9,178.4 L244.4,177.8 L245.9,177.0 L247.3,176.3 L248.8,175.6 L250.3,174.9 L251.7,174.2 L253.2,173.5 L254.6,172.7 L256.1,172.0 L257.5,171.3 L258.9,170.5 L260.4,169.8 L261.8,169.0 L263.3,168.3 L264.7,167.5 L266.1,166.7 L267.5,165.9 L269.0,165.2 L270.4,164.4 L271.8,163.6 L273.2,162.8 L274.6,162.0 L276.0,161.2 L277.5,160.4 L278.9,159.6 L280.3,158.7 L281.7,157.9 L283.0,157.1 L284.4,156.2 L285.8,155.4 L287.2,154.6 L288.6,153.7 L290.0,152.8 L291.3,152.0 L292.7,151.1 L294.1,150.2 L295.4,149.3 L296.8,148.4 L298.2,147.6 L299.5,146.6 L300.9,145.7 L302.2,144.8 L303.6,143.9 L304.9,143.0 L306.2,142.0 L307.6,141.1 L308.9,140.2 L310.2,139.2 L311.5,138.2 L312.9,137.3 L314.2,136.3 L315.5,135.3 L316.8,134.3 L318.1,133.4 L319.4,132.4 L320.7,131.4 L322.0,130.3 L323.3,129.3 L324.5,128.3 L325.8,127.3 L327.1,126.2 L328.4,125.2 L329.6,124.2 L330.9,123.1 L332.1,122.0 L333.4,121.0 L334.6,119.9 L335.9,118.8 L337.1,117.8 L338.3,116.7 L339.6,115.6 L340.8,114.5 L342.0,113.4 L343.2,112.3 L344.4,111.2 L345.6,110.0 L346.8,108.9 L348.0,107.8 L349.2,106.7 L350.4,105.5 L351.5,104.4 L352.7,103.2 L353.9,102.1 L355.0,100.9 L356.1,99.7 L357.3,98.6 L358.4,97.4 L359.5,96.2 L360.6,95.0 L361.7,93.8 L362.8,92.6 L363.8,91.4 L364.9,90.1 L365.9,88.9 L366.9,87.6 L367.9,86.4 L368.8,85.1 L369.8,83.8 L370.7,82.5 L371.6,81.2 L372.5,79.8 L373.3,78.5 L374.2,77.1 L375.0,75.7 L375.8,74.3 L376.5,72.9 L377.2,71.5 L377.9,70.0 L378.6,68.6 L379.2,67.1 L379.8,65.6 L380.4,64.1 L380.9,62.5 L381.4,61.0 L381.9,59.4 L382.3,57.8 L382.7,56.1 L383.0,54.5 L383.3,52.8 L383.3,52.8 L383.3,30.1" stroke="#bf4000" stroke-width="1.3" fill="none" stroke-opacity="0.56" stroke-linejoin="round"/>
<path d="M22.2,224.7 L22.2,248.0 L22.2,248.0 L22.2,248.6 L22.3,249.2 L22.4,249.7 L22.7,250.2 L22.9,250.7 L23.3,251.1 L23.7,251.4 L24.1,251.8 L24.6,252.1 L25.1,252.3 L25.6,252.5 L26.1,252.7 L26.6,252.8 L27.1,252.9 L27.6,253.0 L28.1,253.0 L28.7,253.0 L29.2,253.0 L29.7,253.0 L30.2,252.9 L30.8,252.8 L31.3,252.8 L31.9,252.7 L32.4,252.6 L32.9,252.6 L33.5,252.5 L34.0,252.4 L34.5,252.3 L35.1,252.3 L35.6,252.2 L36.1,252.1 L36.7,252.0 L37.2,252.0 L37.7,251.9 L38.3,251.8 L38.8,251.7 L39.3,251.7 L39.9,251.6 L40.4,251.5 L40.9,251.4 L41.5,251.3 L42.0,251.3 L42.5,251.2 L43.1,251.1 L43.6,251.0 L44.1,250.9 L44.6,250.9 L45.2,250.8 L45.7,250.7 L46.2,250.6 L46.8,250.5 L47.3,250.4 L47.8,250.3 L48.3,250.2 L48.9,250.2 L49.4,250.1 L49.9,250.0 L50.4,249.9 L51.0,249.8 L51.5,249.7 L52.0,249.6 L52.6,249.5 L53.1,249.4 L53.6,249.3 L54.1,249.2 L54.7,249.1 L55.2,249.0 L55.7,248.9 L56.2,248.8 L56.7,248.7 L57.3,248.6 L57.8,248.5 L58.3,248.4 L58.8,248.3 L59.4,248.2 L59.9,248.1 L60.4,247.9 L60.9,247.8 L61.4,247.7 L62.0,247.6 L62.5,247.5 L63.0,247.4 L63.5,247.3 L64.1,247.1 L64.6,247.0 L65.1,246.9 L65.6,246.8 L66.1,246.6 L66.7,246.5 L67.2,246.4 L67.7,246.3 L68.2,246.1 L68.7,246.0 L69.2,245.9 L69.8,245.7 L70.3,245.6 L70.8,245.5 L71.3,245.3 L71.8,245.2 L72.4,245.0 L72.9,244.9 L73.4,244.7 L73.9,244.6 L74.4,244.5 L74.9,244.3 L75.5,244.2 L76.0,244.0 L76.5,243.9 L77.0,243.7 L77.5,243.5 L78.0,243.4 L78.5,243.2 L79.1,243.1 L79.6,242.9 L80.1,242.7 L80.6,242.6 L81.1,242.4 L81.6,242.2 L82.1,242.1 L82.6,241.9 L83.1,241.7 L83.7,241.6 L84.2,241.4 L84.7,241.2 L85.2,241.0 L85.7,240.9 L86.2,240.7 L86.7,240.5 L87.2,240.3 L87.7,240.1 L88.2,240.0 L88.7,239.8 L89.2,239.6 L89.7,239.4 L90.2,239.2 L90.7,239.0 L91.2,238.8 L91.7,238.6 L92.2,238.4 L92.7,238.2 L93.2,238.0 L93.7,237.8 L94.2,237.6 L94.7,237.4 L95.2,237.2 L95.7,237.0 L96.2,236.8 L96.7,236.6 L97.2,236.4 L97.7,236.2 L98.2,236.0 L98.7,235.8 L99.2,235.5 L99.7,235.3 L100.2,235.1 L100.7,234.9 L101.2,234.7 L101.6,234.4 L102.1,234.2 L102.6,234.0 L103.1,233.8 L103.6,233.5 L104.1,233.3 L104.6,233.1 L105.1,232.9 L105.5,232.6 L106.0,232.4 L106.5,232.2 L107.0,231.9 L107.5,231.7 L107.9,231.4 L108.4,231.2 L108.9,231.0 L109.4,230.7 L109.8,230.5 L110.3,230.2 L110.8,230.0 L111.3,229.7 L111.7,229.5 L112.2,229.2 L112.7,229.0 L113.2,228.7 L113.6,228.5 L114.1,228.2 L114.6,228.0 L115.0,227.7 L115.5,227.4 L116.0,227.2 L116.4,226.9 L116.9,226.6 L117.3,226.4 L117.8,226.1 L118.3,225.8 L118.7,225.6 L119.2,225.3 L119.6,225.0 L120.1,224.8 L120.5,224.5 L121.0,224.2 L121.0,224.2 L122.7,223.7 L124.3,223.2 L126.0,222.7 L127.6,222.2 L129.3,221.7 L130.9,221.2 L132.6,220.8 L134.2,220.3 L135.9,219.8 L137.6,219.3 L139.2,218.8 L140.9,218.3 L142.5,217.8 L144.2,217.3 L145.9,216.8 L147.5,216.3 L149.2,215.8 L150.8,215.3 L152.5,214.8 L154.2,214.2 L155.8,213.7 L157.5,213.2 L159.1,212.7 L160.8,212.2 L162.5,211.7 L164.1,211.1 L165.8,210.6 L167.4,210.1 L169.1,209.5 L170.7,209.0 L172.4,208.5 L174.0,207.9 L175.7,207.4 L177.3,206.8 L179.0,206.3 L180.6,205.7 L182.3,205.2 L183.9,204.6 L185.5,204.0 L187.2,203.5 L188.8,202.9 L190.5,202.3 L192.1,201.7 L193.7,201.1 L195.4,200.5 L197.0,199.9 L198.6,199.3 L200.2,198.7 L201.9,198.1 L203.5,197.5 L205.1,196.9 L206.7,196.2 L208.3,195.6 L209.9,195.0 L211.6,194.3 L213.2,193.7 L214.8,193.0 L216.4,192.3 L218.0,191.7 L219.6,191.0 L221.2,190.3 L222.7,189.6 L224.3,188.9 L225.9,188.2 L227.5,187.5 L229.1,186.8 L230.6,186.1 L232.2,185.3 L233.8,184.6 L235.3,183.9 L236.9,183.1 L238.4,182.3 L240.0,181.6 L241.5,180.8 L243.1,180.0 L244.6,179.2 L246.2,178.4 L247.7,177.6 L249.3,176.8 L250.8,176.0 L252.3,175.2 L253.9,174.4 L255.4,173.6 L256.9,172.8 L258.5,172.0 L260.0,171.2 L261.5,170.4 L263.1,169.6 L264.6,168.8 L266.1,168.0 L267.7,167.2 L269.2,166.4 L270.8,165.6 L272.3,164.8 L273.9,164.0 L275.4,163.3 L277.0,162.5 L278.5,161.7 L280.1,161.0 L281.7,160.2 L283.2,159.5 L284.8,158.8 L286.4,158.1 L288.0,157.4 L289.6,156.7 L291.2,156.0 L292.8,155.3 L294.4,154.6 L296.0,153.9 L297.6,153.2 L299.2,152.5 L300.7,151.8 L302.3,151.1 L303.9,150.4 L305.5,149.7 L307.1,149.0 L308.7,148.3 L310.3,147.6 L311.9,146.9 L313.4,146.1 L315.0,145.4 L316.6,144.6 L318.1,143.8 L319.7,143.0 L321.2,142.2 L322.8,141.4 L324.3,140.6 L325.8,139.8 L327.3,139.0 L328.8,138.1 L330.3,137.3 L331.8,136.4 L333.3,135.5 L334.8,134.6 L336.3,133.7 L337.8,132.8 L339.2,131.9 L340.7,131.0 L342.1,130.0 L343.6,129.1 L345.0,128.1 L346.4,127.1 L347.8,126.1 L349.2,125.1 L350.6,124.1 L352.0,123.0 L353.3,122.0 L354.7,120.9 L356.1,119.9 L357.4,118.8 L358.7,117.7 L360.0,116.6 L361.3,115.4 L362.6,114.3 L363.9,113.2 L365.2,112.0 L366.5,110.8 L367.7,109.6 L368.9,108.4 L370.2,107.2 L371.4,105.9 L372.6,104.7 L373.8,103.4 L374.9,102.1 L376.1,100.8 L377.3,99.5 L378.4,98.2 L379.5,96.9 L380.6,95.5 L381.7,94.1 L382.8,92.8 L383.8,91.4 L384.9,89.9 L385.9,88.5 L386.9,87.1 L387.9,85.6 L388.9,84.2 L389.8,82.7 L390.7,81.2 L391.6,79.7 L392.5,78.2 L393.4,76.7 L394.2,75.2 L395.0,73.7 L395.8,72.2 L396.5,70.6 L397.3,69.1 L397.9,67.5 L398.6,65.9 L399.2,64.3 L399.7,62.7 L400.2,61.1 L400.7,59.4 L401.1,57.8 L401.5,56.1 L401.8,54.4 L402.1,52.7 L402.3,51.0 L402.4,49.2 L402.4,49.2 L402.4,30.1" stroke="#df2000" stroke-width="1.3" fill="none" stroke-opacity="0.56" stroke-linejoin="round"/>
<path d="M22.2,224.7 L22.2,248.0 L22.2,248.0 L22.2,248.6 L22.3,249.2 L22.4,249.7 L22.7,250.2 L23.0,250.7 L23.3,251.1 L23.7,251.5 L24.1,251.8 L24.6,252.1 L25.1,252.3 L25.5,252.5 L26.0,252.7 L26.6,252.8 L27.1,252.9 L27.6,253.0 L28.1,253.0 L28.6,253.0 L29.2,253.0 L29.7,253.0 L30.2,252.9 L30.8,252.9 L31.3,252.8 L31.8,252.7 L32.4,252.7 L32.9,252.6 L33.4,252.5 L34.0,252.4 L34.5,252.4 L35.1,252.3 L35.6,252.2 L36.1,252.1 L36.7,252.1 L37.2,252.0 L37.7,251.9 L38.3,251.8 L38.8,251.8 L39.3,251.7 L39.9,251.6 L40.4,251.5 L40.9,251.4 L41.5,251.4 L42.0,251.3 L42.5,251.2 L43.0,251.1 L43.6,251.0 L44.1,251.0 L44.6,250.9 L45.2,250.8 L45.7,250.7 L46.2,250.6 L46.8,250.5 L47.3,250.4 L47.8,250.4 L48.3,250.3 L48.9,250.2 L49.4,250.1 L49.9,250.0 L50.4,249.9 L51.0,249.8 L51.5,249.7 L52.0,249.6 L52.5,249.5 L53.1,249.4 L53.6,249.3 L54.1,249.2 L54.6,249.1 L55.2,249.0 L55.7,248.9 L56.2,248.8 L56.7,248.7 L57.3,248.6 L57.8,248.5 L58.3,248.4 L58.8,248.3 L59.4,248.2 L59.9,248.1 L60.4,248.0 L60.9,247.9 L61.4,247.8 L62.0,247.6 L62.5,247.5 L63.0,247.4 L63.5,247.3 L64.1,247.2 L64.6,247.1 L65.1,246.9 L65.6,246.8 L66.1,246.7 L66.7,246.6 L67.2,246.4 L67.7,246.3 L68.2,246.2 L68.7,246.0 L69.2,245.9 L69.8,245.8 L70.3,245.6 L70.8,245.5 L71.3,245.4 L71.8,245.2 L72.4,245.1 L72.9,244.9 L73.4,244.8 L73.9,244.7 L74.4,244.5 L74.9,244.4 L75.5,244.2 L76.0,244.1 L76.5,243.9 L77.0,243.8 L77.5,243.6 L78.0,243.4 L78.5,243.3 L79.1,243.1 L79.6,243.0 L80.1,242.8 L80.6,242.6 L81.1,242.5 L81.6,242.3 L82.1,242.1 L82.6,242.0 L83.2,241.8 L83.7,241.6 L84.2,241.5 L84.7,241.3 L85.2,241.1 L85.7,240.9 L86.2,240.7 L86.7,240.6 L87.2,240.4 L87.7,240.2 L88.2,240.0 L88.7,239.8 L89.2,239.6 L89.8,239.4 L90.3,239.3 L90.8,239.1 L91.3,238.9 L91.8,238.7 L92.3,238.5 L92.8,238.3 L93.3,238.1 L93.8,237.9 L94.3,237.7 L94.8,237.5 L95.3,237.3 L95.8,237.1 L96.3,236.9 L96.8,236.7 L97.3,236.4 L97.7,236.2 L98.2,236.0 L98.7,235.8 L99.2,235.6 L99.7,235.4 L100.2,235.2 L100.7,234.9 L101.2,234.7 L101.7,234.5 L102.2,234.3 L102.7,234.0 L103.1,233.8 L103.6,233.6 L104.1,233.4 L104.6,233.1 L105.1,232.9 L105.6,232.7 L106.0,232.4 L106.5,232.2 L107.0,232.0 L107.5,231.7 L108.0,231.5 L108.4,231.2 L108.9,231.0 L109.4,230.8 L109.9,230.5 L110.3,230.3 L110.8,230.0 L111.3,229.8 L111.8,229.5 L112.2,229.3 L112.7,229.0 L113.2,228.7 L113.6,228.5 L114.1,228.2 L114.6,228.0 L115.0,227.7 L115.5,227.5 L116.0,227.2 L116.4,226.9 L116.9,226.7 L117.4,226.4 L117.8,226.1 L118.3,225.9 L118.7,225.6 L119.2,225.3 L119.6,225.0 L120.1,224.8 L120.5,224.5 L121.0,224.2 L121.0,224.2 L122.5,223.8 L124.0,223.4 L125.5,223.1 L127.0,222.7 L128.5,222.3 L130.0,221.9 L131.5,221.5 L133.0,221.1 L134.5,220.7 L136.0,220.3 L137.5,219.9 L139.0,219.5 L140.5,219.1 L142.0,218.7 L143.5,218.3 L145.0,217.9 L146.4,217.5 L147.9,217.0 L149.4,216.6 L150.9,216.2 L152.4,215.8 L153.9,215.3 L155.4,214.9 L156.9,214.5 L158.4,214.0 L159.9,213.6 L161.3,213.1 L162.8,212.7 L164.3,212.2 L165.8,211.8 L167.3,211.3 L168.8,210.8 L170.2,210.4 L171.7,209.9 L173.2,209.4 L174.7,208.9 L176.1,208.4 L177.6,208.0 L179.1,207.5 L180.6,207.0 L182.0,206.5 L183.5,206.0 L185.0,205.5 L186.4,205.0 L187.9,204.4 L189.4,203.9 L190.8,203.4 L192.3,202.9 L193.7,202.3 L195.2,201.8 L196.6,201.3 L198.1,200.7 L199.5,200.2 L201.0,199.6 L202.4,199.1 L203.9,198.5 L205.3,197.9 L206.8,197.4 L208.2,196.8 L209.6,196.2 L211.1,195.6 L212.5,195.0 L213.9,194.5 L215.4,193.9 L216.8,193.3 L218.2,192.7 L219.7,192.1 L221.1,191.5 L222.5,190.8 L223.9,190.2 L225.4,189.6 L226.8,189.0 L228.2,188.4 L229.6,187.8 L231.0,187.1 L232.4,186.5 L233.9,185.9 L235.3,185.2 L236.7,184.6 L238.1,184.0 L239.5,183.3 L240.9,182.7 L242.3,182.1 L243.8,181.4 L245.2,180.8 L246.6,180.1 L248.0,179.5 L249.4,178.9 L250.8,178.2 L252.2,177.6 L253.6,176.9 L255.0,176.3 L256.4,175.6 L257.8,175.0 L259.2,174.3 L260.7,173.7 L262.1,173.0 L263.5,172.4 L264.9,171.7 L266.3,171.1 L267.7,170.4 L269.1,169.8 L270.5,169.1 L271.9,168.5 L273.3,167.8 L274.7,167.2 L276.2,166.6 L277.6,165.9 L279.0,165.3 L280.4,164.6 L281.8,164.0 L283.2,163.4 L284.6,162.7 L286.0,162.1 L287.5,161.5 L288.9,160.8 L290.3,160.2 L291.7,159.6 L293.1,159.0 L294.5,158.3 L296.0,157.7 L297.4,157.1 L298.8,156.4 L300.2,155.8 L301.6,155.2 L303.0,154.6 L304.5,153.9 L305.9,153.3 L307.3,152.7 L308.7,152.0 L310.1,151.4 L311.5,150.8 L312.9,150.1 L314.3,149.5 L315.8,148.8 L317.2,148.2 L318.6,147.5 L320.0,146.9 L321.4,146.2 L322.8,145.5 L324.2,144.9 L325.6,144.2 L327.0,143.5 L328.4,142.8 L329.8,142.1 L331.1,141.5 L332.5,140.8 L333.9,140.1 L335.3,139.4 L336.7,138.6 L338.1,137.9 L339.4,137.2 L340.8,136.5 L342.2,135.8 L343.5,135.0 L344.9,134.3 L346.3,133.5 L347.6,132.8 L349.0,132.0 L350.3,131.2 L351.7,130.5 L353.0,129.7 L354.3,128.9 L355.7,128.1 L357.0,127.3 L358.3,126.5 L359.6,125.7 L360.9,124.9 L362.3,124.0 L363.6,123.2 L364.9,122.4 L366.2,121.5 L367.4,120.6 L368.7,119.8 L370.0,118.9 L371.3,118.0 L372.6,117.1 L373.8,116.2 L375.1,115.3 L376.3,114.4 L377.6,113.5 L378.8,112.5 L380.0,111.6 L381.2,110.6 L382.5,109.7 L383.7,108.7 L384.9,107.7 L386.1,106.7 L387.2,105.7 L388.4,104.7 L389.6,103.7 L390.7,102.7 L391.9,101.6 L393.0,100.6 L394.2,99.5 L395.3,98.5 L396.4,97.4 L397.5,96.3 L398.6,95.2 L398.6,95.2 L398.7,94.9 L398.8,94.6 L398.9,94.3 L399.1,93.9 L399.2,93.6 L399.3,93.3 L399.4,93.0 L399.5,92.7 L399.6,92.4 L399.7,92.1 L399.8,91.7 L399.9,91.4 L400.0,91.1 L400.1,90.8 L400.2,90.5 L400.3,90.2 L400.4,89.8 L400.5,89.5 L400.5,89.2 L400.6,88.9 L400.7,88.6 L400.8,88.2 L400.9,87.9 L401.0,87.6 L401.0,87.3 L401.1,87.0 L401.2,86.6 L401.3,86.3 L401.3,86.0 L401.4,85.7 L401.5,85.4 L401.5,85.0 L401.6,84.7 L401.7,84.4 L401.7,84.1 L401.8,83.8 L401.9,83.4 L401.9,83.1 L402.0,82.8 L402.0,82.5 L402.1,82.1 L402.2,81.8 L402.2,81.5 L402.3,81.2 L402.3,80.9 L402.4,80.5 L402.4,80.2 L402.5,79.9 L402.5,79.6 L402.5,79.2 L402.6,78.9 L402.6,78.6 L402.7,78.3 L402.7,77.9 L402.8,77.6 L402.8,77.3 L402.8,76.9 L402.9,76.6 L402.9,76.3 L402.9,76.0 L403.0,75.6 L403.0,75.3 L403.0,75.0 L403.1,74.7 L403.1,74.3 L403.1,74.0 L403.2,73.7 L403.2,73.4 L403.2,73.0 L403.2,72.7 L403.3,72.4 L403.3,72.0 L403.3,71.7 L403.3,71.4 L403.4,71.1 L403.4,70.7 L403.4,70.4 L403.4,70.1 L403.4,69.7 L403.4,69.4 L403.5,69.1 L403.5,68.8 L403.5,68.4 L403.5,68.1 L403.5,67.8 L403.5,67.4 L403.5,67.1 L403.6,66.8 L403.6,66.4 L403.6,66.1 L403.6,65.8 L403.6,65.4 L403.6,65.1 L403.6,64.8 L403.6,64.5 L403.6,64.1 L403.6,63.8 L403.6,63.5 L403.6,63.1 L403.6,62.8 L403.6,62.5 L403.6,62.1 L403.6,61.8 L403.6,61.5 L403.7,61.1 L403.7,60.8 L403.7,60.5 L403.7,60.2 L403.7,59.8 L403.7,59.5 L403.7,59.2 L403.7,58.8 L403.6,58.5 L403.6,58.2 L403.6,57.8 L403.6,57.5 L403.6,57.2 L403.6,56.8 L403.6,56.5 L403.6,56.2 L403.6,55.8 L403.6,55.5 L403.6,55.2 L403.6,54.8 L403.6,54.5 L403.6,54.2 L403.6,53.8 L403.6,53.5 L403.6,53.2 L403.6,52.9 L403.6,52.5 L403.6,52.2 L403.6,51.9 L403.6,51.5 L403.5,51.2 L403.5,50.9 L403.5,50.5 L403.5,50.2 L403.5,49.9 L403.5,49.5 L403.5,49.2 L403.5,48.9 L403.5,48.5 L403.5,48.2 L403.5,47.9 L403.5,47.5 L403.5,47.2 L403.5,46.9 L403.5,46.6 L403.4,46.2 L403.4,45.9 L403.4,45.6 L403.4,45.2 L403.4,44.9 L403.4,44.6 L403.4,44.2 L403.4,43.9 L403.4,43.6 L403.4,43.2 L403.4,42.9 L403.4,42.6 L403.4,42.3 L403.4,41.9 L403.4,41.6 L403.4,41.3 L403.4,40.9 L403.4,40.6 L403.4,40.3 L403.4,39.9 L403.4,39.6 L403.4,39.3 L403.4,39.0 L403.4,38.6 L403.4,38.3 L403.4,38.0 L403.4,37.6 L403.4,37.3 L403.4,37.0 L403.4,36.6 L403.4,36.3 L403.4,36.0 L403.4,35.7 L403.4,35.3 L403.4,35.0 L403.4,34.7 L403.4,34.3 L403.4,34.0 L403.4,33.7 L403.4,33.4 L403.4,33.0 L403.5,32.7 L403.5,32.4 L403.5,32.1 L403.5,31.7 L403.5,31.4 L403.5,31.1 L403.5,30.8 L403.5,30.4 L403.5,30.1" stroke="#ff0000" stroke-width="1.3" fill="none" stroke-opacity="0.56" stroke-linejoin="round"/>
<g stroke="#1c1c1c" stroke-width="1.1" fill="none">
<line x1="22.55" y1="273.0" x2="414.95000000000005" y2="273.0"/>
<line x1="22.55" y1="273.0" x2="22.55" y2="31.0"/>
<line x1="22.55" y1="273.0" x2="22.55" y2="270.5"/>
<line x1="38.90" y1="273.0" x2="38.90" y2="270.5"/>
<line x1="55.25" y1="273.0" x2="55.25" y2="270.5"/>
<line x1="71.60" y1="273.0" x2="71.60" y2="270.5"/>
<line x1="87.95" y1="273.0" x2="87.95" y2="268.8"/>
<line x1="104.30" y1="273.0" x2="104.30" y2="270.5"/>
<line x1="120.65" y1="273.0" x2="120.65" y2="270.5"/>
<line x1="137.00" y1="273.0" x2="137.00" y2="270.5"/>
<line x1="153.35" y1="273.0" x2="153.35" y2="270.5"/>
<line x1="169.70" y1="273.0" x2="169.70" y2="268.8"/>
<line x1="186.05" y1="273.0" x2="186.05" y2="270.5"/>
<line x1="202.40" y1="273.0" x2="202.40" y2="270.5"/>
<line x1="218.75" y1="273.0" x2="218.75" y2="270.5"/>
<line x1="235.10" y1="273.0" x2="235.10" y2="270.5"/>
<line x1="251.45" y1="273.0" x2="251.45" y2="268.8"/>
<line x1="267.80" y1="273.0" x2="267.80" y2="270.5"/>
<line x1="284.15" y1="273.0" x2="284.15" y2="270.5"/>
<line x1="300.50" y1="273.0" x2="300.50" y2="270.5"/>
<line x1="316.85" y1="273.0" x2="316.85" y2="270.5"/>
<line x1="333.20" y1="273.0" x2="333.20" y2="268.8"/>
<line x1="349.55" y1="273.0" x2="349.55" y2="270.5"/>
<line x1="365.90" y1="273.0" x2="365.90" y2="270.5"/>
<line x1="382.25" y1="273.0" x2="382.25" y2="270.5"/>
<line x1="398.60" y1="273.0" x2="398.60" y2="270.5"/>
<line x1="414.95" y1="273.0" x2="414.95" y2="268.8"/>
<line x1="22.55" y1="273.00" x2="26.75" y2="273.00"/>
<line x1="22.55" y1="260.90" x2="25.05" y2="260.90"/>
<line x1="22.55" y1="248.80" x2="25.05" y2="248.80"/>
<line x1="22.55" y1="236.70" x2="25.05" y2="236.70"/>
<line x1="22.55" y1="224.60" x2="26.75" y2="224.60"/>
<line x1="22.55" y1="212.50" x2="25.05" y2="212.50"/>
<line x1="22.55" y1="200.40" x2="25.05" y2="200.40"/>
<line x1="22.55" y1="188.30" x2="25.05" y2="188.30"/>
<line x1="22.55" y1="176.20" x2="26.75" y2="176.20"/>
<line x1="22.55" y1="164.10" x2="25.05" y2="164.10"/>
<line x1="22.55" y1="152.00" x2="25.05" y2="152.00"/>
<line x1="22.55" y1="139.90" x2="25.05" y2="139.90"/>
<line x1="22.55" y1="127.80" x2="26.75" y2="127.80"/>
<line x1="22.55" y1="115.70" x2="25.05" y2="115.70"/>
<line x1="22.55" y1="103.60" x2="25.05" y2="103.60"/>
<line x1="22.55" y1="91.50" x2="25.05" y2="91.50"/>
<line x1="22.55" y1="79.40" x2="26.75" y2="79.40"/>
<line x1="22.55" y1="67.30" x2="25.05" y2="67.30"/>
<line x1="22.55" y1="55.20" x2="25.05" y2="55.20"/>
<line x1="22.55" y1="43.10" x2="25.05" y2="43.10"/>
<line x1="22.55" y1="31.00" x2="26.75" y2="31.00"/>
</g>
<g font-size="16.3" font-weight="bold" fill="#000">
<text x="88.0" y="292.6" text-anchor="middle">5</text>
<text x="169.7" y="292.6" text-anchor="middle">10</text>
<text x="251.5" y="292.6" text-anchor="middle">15</text>
<text x="333.2" y="292.6" text-anchor="middle">20</text>
<text x="415.0" y="292.6" text-anchor="middle">25</text>
<text x="19.0" y="278.4" text-anchor="end">0</text>
<text x="19.0" y="230.0" text-anchor="end">2</text>
<text x="19.0" y="181.6" text-anchor="end">4</text>
<text x="19.0" y="133.2" text-anchor="end">6</text>
<text x="19.0" y="84.8" text-anchor="end">8</text>
<text x="19.0" y="36.4" text-anchor="end">10</text>
<text x="425.6" y="279.6" font-size="16.6">c</text>
</g>
<g fill="#111">
<text x="5.3" y="15.7" font-size="16.8">Δ</text>
<text x="17.4" y="8.5" font-size="12.5">+</text>
<text x="17.4" y="20.3" font-size="12.1" font-weight="bold">gap</text>
<text x="127.0" y="237.5" font-size="17">(</text>
<text x="133.0" y="237.3" font-size="16.6" font-weight="bold" font-style="italic">E</text>
<text x="144.3" y="240.5" font-size="12.6" font-weight="bold" font-style="italic">7</text>
<text x="151.6" y="237.5" font-size="17">)</text>
<text x="156.6" y="240.0" font-size="12" font-weight="bold">1</text>
</g>
</svg>
</body></html>
